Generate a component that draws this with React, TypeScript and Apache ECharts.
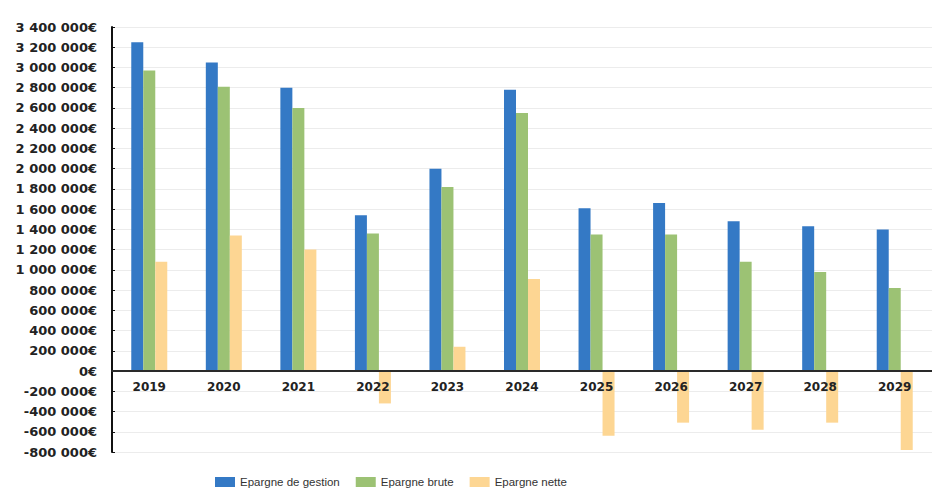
import React, { useEffect, useRef } from "react";
import * as echarts from "echarts";

const categories = ["2019", "2020", "2021", "2022", "2023", "2024", "2025", "2026", "2027", "2028", "2029"];
const epargneGestion = [3250000, 3050000, 2800000, 1540000, 2000000, 2780000, 1610000, 1660000, 1480000, 1430000, 1400000];
const epargneBrute = [2970000, 2810000, 2600000, 1360000, 1820000, 2550000, 1350000, 1350000, 1080000, 980000, 820000];
const epargneNette = [1080000, 1340000, 1200000, -320000, 240000, 910000, -640000, -510000, -580000, -510000, -780000];
const seriesNames = ["Epargne de gestion", "Epargne brute", "Epargne nette"];
const seriesColors = ["#3479c5", "#9cc274", "#fdd693"];

function fmt(v: number): string {
  const neg = v < 0;
  const s = Math.abs(v).toString().replace(/\B(?=(\d{3})+(?!\d))/g, " ");
  return (neg ? "-" : "") + s + "€";
}

export default function App() {
  const ref = useRef<HTMLDivElement>(null);
  useEffect(() => {
    document.body.style.margin = "0";
    const chart = echarts.init(ref.current!, null, { renderer: "svg" });
    const data = [epargneGestion, epargneBrute, epargneNette];
    chart.setOption({
      animation: false,
      backgroundColor: "#ffffff",
      grid: { left: 112, right: -4, top: 27, bottom: 41, containLabel: false },
      legend: {
        left: 210,
        bottom: 0,
        itemWidth: 20,
        itemHeight: 10,
        itemGap: 16,
        icon: "rect",
        textStyle: { fontFamily: "Liberation Sans", fontSize: 11.5, color: "#333", fontWeight: 500 },
        data: seriesNames,
      },
      xAxis: {
        type: "category",
        data: categories,
        z: 10,
        axisLine: { onZero: true, lineStyle: { color: "#2a2a2a", width: 2 } },
        axisTick: { show: false },
        axisLabel: { fontFamily: "DejaVu Sans", fontWeight: "bold", fontSize: 12, color: "#222", margin: -71 },
      },
      yAxis: {
        type: "value",
        min: -800000,
        max: 3400000,
        interval: 200000,
        axisLine: { show: true, lineStyle: { color: "#111", width: 2 } },
        axisTick: { show: true, inside: true, length: 3, lineStyle: { color: "#111" } },
        splitLine: { lineStyle: { color: "#ececec", width: 1 } },
        axisLabel: {
          fontFamily: "DejaVu Sans",
          fontWeight: "bold",
          fontSize: 13,
          color: "#222",
          margin: 15,
          formatter: (v: number) => fmt(v),
        },
      },
      series: seriesNames.map((name, i) => ({
        name,
        type: "bar",
        data: data[i],
        barWidth: 12,
        barGap: "0%",
        itemStyle: { color: seriesColors[i] },
      })),
    });
    return () => chart.dispose();
  }, []);
  return <div ref={ref} style={{ width: 932, height: 493 }} />;
}
